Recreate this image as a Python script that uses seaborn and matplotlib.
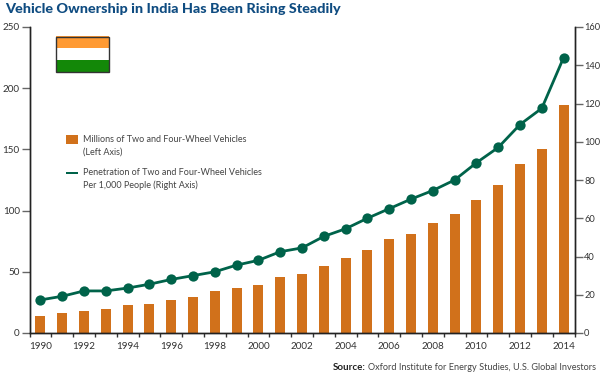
import matplotlib
matplotlib.use("Agg")
import matplotlib.pyplot as plt
from matplotlib.patches import Rectangle, Circle, Patch
from matplotlib.legend_handler import HandlerPatch
import seaborn as sns
import pandas as pd

years = list(range(1990, 2015))
vehicles = [14, 16, 18, 20, 22.5, 24, 27, 29.5, 34, 36.5, 39, 45.5, 48, 55, 61, 68, 76.5, 81, 90, 97, 109, 121, 138, 150, 186]
penetration = [17.3, 19.2, 22, 22, 23.5, 25.5, 28, 30, 32, 35.5, 38, 42.5, 44.5, 50.5, 54.5, 60, 65, 70, 74.5, 80, 89, 97, 109, 117.5, 144]
left_ticks = [0, 50, 100, 150, 200, 250]
right_ticks = [0, 20, 40, 60, 80, 100, 120, 140, 160]
title = "Vehicle Ownership in India Has Been Rising Steadily"
bar_label = "Millions of Two and Four-Wheel Vehicles\n(Left Axis)"
line_label = "Penetration of Two and Four-Wheel Vehicles\nPer 1,000 People (Right Axis)"

ORANGE = "#d1711b"
GREEN = "#00634a"
TXT = "#333333"
W, H = 600, 379

sns.set_theme(style="white")
plt.rcParams["font.family"] = ["Lato", "DejaVu Sans"]

df = pd.DataFrame({"year": years, "vehicles": vehicles, "penetration": penetration})
df["pos"] = range(len(df))

fig = plt.figure(figsize=(W / 100, H / 100), dpi=100, facecolor="white")
ax = fig.add_axes([29.5 / W, 1 - 333 / H, 545 / W, 306 / H])

sns.barplot(data=df, x="pos", y="vehicles", color=ORANGE, width=0.46, saturation=1,
            order=list(df["pos"]), ax=ax, linewidth=0)
ax.set_xlim(-0.5, 24.5)
ax.set_ylim(0, 250)
ax.set_xlabel("")
ax.set_ylabel("")

ax2 = ax.twinx()
sns.lineplot(data=df, x="pos", y="penetration", color=GREEN, linewidth=2.0, marker="o",
             markersize=7.4, markeredgewidth=0, ax=ax2, errorbar=None)
ax2.set_ylim(0, 160)
ax2.set_xlabel("")
ax2.set_ylabel("")

ax.set_yticks(left_ticks)
ax.set_yticklabels([str(t) for t in left_ticks], fontsize=7.1, color=TXT)
ax2.set_yticks(right_ticks)
ax2.set_yticklabels([str(t) for t in right_ticks], fontsize=6.7, color=TXT)
ax.tick_params(axis="y", length=6, width=1, color="#666666", pad=1, left=True)
ax2.tick_params(axis="y", length=6, width=1, color="#666666", pad=1, right=True)

# x ticks sit on the category edges, labels on every second category
ax.set_xticks([i - 0.5 for i in range(len(years) + 1)])
ax.set_xticklabels([])
ax.tick_params(axis="x", length=3, width=1, color="#333333", bottom=True)
ax.set_xticks(list(df["pos"][::2]), minor=True)
ax.set_xticklabels([str(y) for y in years[::2]], minor=True, fontsize=7.1, color=TXT)
ax.tick_params(axis="x", which="minor", length=0, pad=6.5)

for a in (ax, ax2):
    a.grid(False)
    a.spines["top"].set_visible(False)
    for s in ("left", "right", "bottom"):
        a.spines[s].set_visible(True)
        a.spines[s].set_color("#222222")
        a.spines[s].set_linewidth(1)

fig.text(5 / W, 1 - 9 / H, title, fontsize=10.4, fontweight="black", color="#0f4c81",
         va="center", ha="left")


# legend keys line up with the first line of their two-line labels
def swatch(legend, orig_handle, xdescent, ydescent, width, height, fontsize):
    return Rectangle((-xdescent, -ydescent + 4.7), width, height)


def dash(legend, orig_handle, xdescent, ydescent, width, height, fontsize):
    return Rectangle((-xdescent, -ydescent + 4.7 + height / 2 - 1), width, 2)


bar_key = Patch(facecolor=ORANGE, linewidth=0, label=bar_label)
line_key = Patch(facecolor=GREEN, linewidth=0, label=line_label)
leg = ax2.legend(handles=[bar_key, line_key], loc="upper left", bbox_to_anchor=(66 / W, 1 - 135 / H),
                 bbox_transform=fig.transFigure, frameon=False, fontsize=6.5, labelcolor="#444444",
                 handlelength=1.3, handleheight=1.3, handletextpad=0.6, labelspacing=1.33,
                 borderpad=0, borderaxespad=0, alignment="left",
                 handler_map={bar_key: HandlerPatch(patch_func=swatch),
                              line_key: HandlerPatch(patch_func=dash)})
for t in leg.get_texts():
    t.set_linespacing(1.45)

# flag
fx, fy, fw, fh = 55.5, 36.5, 53, 35
def fr(x, y, w, h, **k):
    fig.add_artist(Rectangle((x / W, 1 - (y + h) / H), w / W, h / H, transform=fig.transFigure, **k))
fr(fx, fy, fw, fh / 3, facecolor="#ff9a33", linewidth=0)
fr(fx, fy + fh / 3, fw, fh / 3, facecolor="white", linewidth=0)
fr(fx, fy + 2 * fh / 3, fw, fh / 3, facecolor="#138808", linewidth=0)
fr(fx, fy, fw, fh, facecolor="none", edgecolor="#333333", linewidth=1)
flag_ax = fig.add_axes([0, 0, 1, 1], facecolor="none")
flag_ax.set_xlim(0, W); flag_ax.set_ylim(H, 0); flag_ax.axis("off")
flag_ax.add_patch(Circle((fx + fw / 2, fy + fh / 2), 5, facecolor="#4a4aa8", linewidth=0))
flag_ax.add_patch(Circle((fx + fw / 2, fy + fh / 2), 2.4, facecolor="#000080", linewidth=0))

fig.text(333 / W, 1 - 367 / H, "Source:", fontsize=7.0, fontweight="bold", color="#222222",
         va="center", ha="left")
fig.text(367.5 / W, 1 - 367 / H, "Oxford Institute for Energy Studies, U.S. Global Investors",
         fontsize=6.56, color="#444444", va="center", ha="left")

fig.savefig("out.png", dpi=100, facecolor="white")
